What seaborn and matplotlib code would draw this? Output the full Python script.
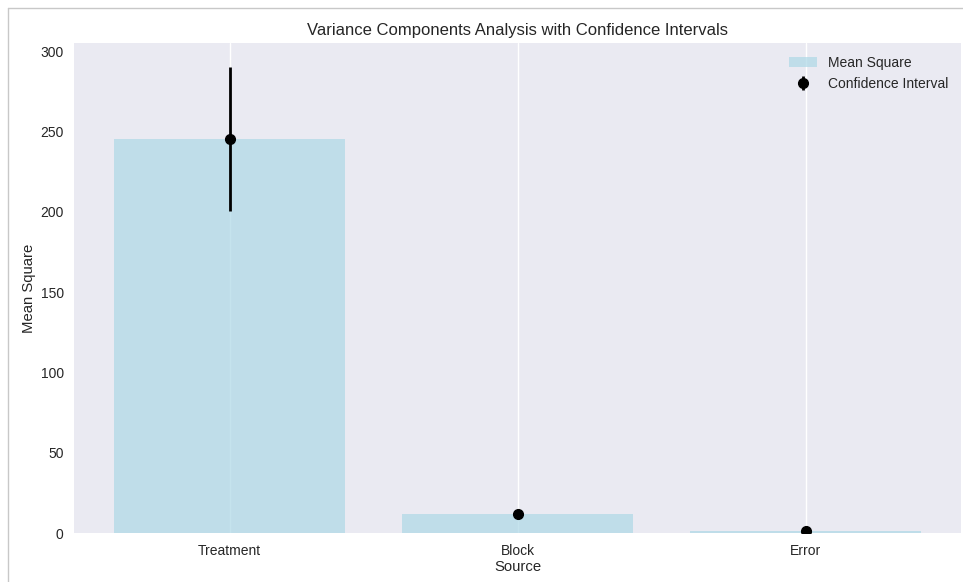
import numpy as np
import matplotlib
matplotlib.use('Agg')
import matplotlib.pyplot as plt
import seaborn as sns
from matplotlib.lines import Line2D

sources = ['Treatment', 'Block', 'Error']
mean_square = [245.5, 12.0, 1.1]
ci_lower = [200.5, 10.8, 0.7]
ci_upper = [290.2, 13.2, 1.5]

plt.style.use('seaborn-v0_8-darkgrid')
plt.rcParams['font.family'] = ['Liberation Sans', 'DejaVu Sans']

fig, ax = plt.subplots(figsize=(9.63, 5.82), dpi=100)
fig.subplots_adjust(left=0.077, right=0.998, top=0.926, bottom=0.084)

# bars
sns.barplot(x=sources, y=mean_square, color='lightblue', alpha=0.7,
            width=0.8, label='Mean Square', ax=ax, saturation=1)

# confidence intervals
pos = np.arange(len(sources))
ms = np.array(mean_square)
yerr = [ms - np.array(ci_lower), np.array(ci_upper) - ms]
ax.errorbar(pos, ms, yerr=yerr, fmt='o', color='black', ecolor='black',
            elinewidth=2, markersize=7, capsize=0, label='Confidence Interval')

ax.set_xlim(-0.54, 2.54)
ax.set_ylim(0, 305)
ax.yaxis.grid(False)
ax.xaxis.grid(True, color='white', lw=1)
ax.set_axisbelow(True)
ax.tick_params(axis='both', pad=7.5)
ax.set_title('Variance Components Analysis with Confidence Intervals')
ax.set_xlabel('Source', fontsize=10.7, labelpad=2)
ax.set_ylabel('Mean Square', fontsize=10.7, labelpad=3)
ax.legend(loc='upper right', frameon=False)

# screenshot frame
fig.add_artist(Line2D([8 / 963, 8 / 963], [0, 1 - 8 / 582], color='#c8c8c8', lw=1,
                      transform=fig.transFigure))
fig.add_artist(Line2D([8 / 963, 1], [1 - 8 / 582, 1 - 8 / 582], color='#c8c8c8', lw=1,
                      transform=fig.transFigure))

fig.savefig('out.png', dpi=100)
